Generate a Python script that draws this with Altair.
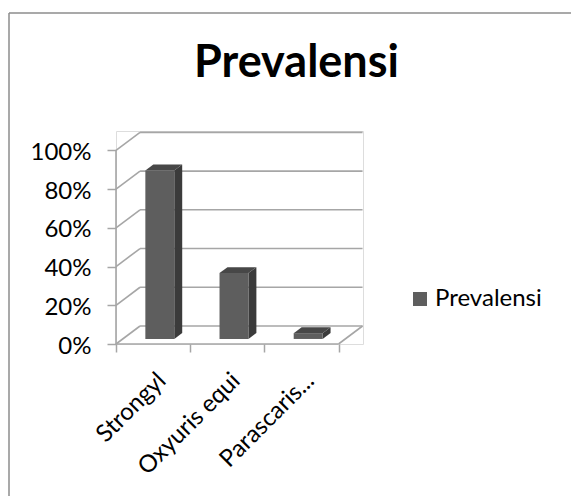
import altair as alt
import pandas as pd

# ---- data ----
categories = ["Strongyl", "Oxyuris equi", "Parascaris..."]
values = [0.87, 0.34, 0.03]
series_name = "Prevalensi"
y_ticks = [0.0, 0.2, 0.4, 0.6, 0.8, 1.0]
x_bounds = [0, 1, 2, 3]

# ---- 3D styling parameters (not data) ----
DX = 0.324   # depth shift in category units
DY = 0.093   # depth shift in value units
BAR_W = 0.39
D0, D1 = 0.28, 0.61
FONT = "Lato"
GRID = "#a6a6a6"
FRONT = "#5e5e5e"
SIDE = "#3b3b3b"
TOP = "#474747"
N = len(categories)

xscale = alt.Scale(domain=[0, 3.33], nice=False, zero=False)
yscale = alt.Scale(domain=[0, 1.1], nice=False, zero=False)
xaxis = alt.Axis(values=x_bounds, labels=False, domain=False, grid=False,
                 ticks=True, tickColor=GRID, tickSize=8, tickWidth=1.5, title=None)
yaxis = alt.Axis(values=y_ticks, format="%", domain=False, grid=False,
                 ticks=True, tickColor=GRID, tickSize=9, tickWidth=1.5,
                 labelFont=FONT, labelFontSize=24, labelColor="#000000",
                 labelPadding=16, labelOffset=2, title=None)


def X(f, **kw):
    return alt.X(f, type="quantitative", scale=xscale, axis=xaxis, title=None, **kw)


def Y(f, **kw):
    return alt.Y(f, type="quantitative", scale=yscale, axis=yaxis, title=None, **kw)


# wall / floor lines
rules = []
for v in y_ticks:
    rules.append(dict(x=DX, x2=N + DX, y=v + DY, y2=v + DY))   # back wall
    rules.append(dict(x=0, x2=DX, y=v, y2=v + DY))              # side wall
rules.append(dict(x=0, x2=N, y=0, y2=0))                        # front floor edge
rules.append(dict(x=N, x2=N + DX, y=0, y2=DY))                  # right floor edge
rules.append(dict(x=0, x2=0, y=0, y2=y_ticks[-1]))              # value axis line
rules_df = pd.DataFrame(rules)

# bar faces derived from values
front, side, top, labels = [], [], [], []
for i, (c, v) in enumerate(zip(categories, values)):
    xl = i + 0.5 - BAR_W / 2
    xr = i + 0.5 + BAR_W / 2
    front.append(dict(cat=c, series=series_name, x=xl + D0 * DX, x2=xr + D0 * DX,
                      y=D0 * DY, y2=v + D0 * DY))
    side.append(dict(cat=c, x=xr + D0 * DX, y=D0 * DY, y2=v + D0 * DY))
    side.append(dict(cat=c, x=xr + D1 * DX, y=D1 * DY, y2=v + D1 * DY))
    top.append(dict(cat=c, y=v + D0 * DY, x=xl + D0 * DX, x2=xr + D0 * DX))
    top.append(dict(cat=c, y=v + D1 * DY, x=xl + D1 * DX, x2=xr + D1 * DX))
    labels.append(dict(cat=c, x=i + 0.5, y=0.0))

rules_layer = alt.Chart(rules_df).mark_rule(color=GRID, strokeWidth=1.6).encode(
    x=X("x"), x2="x2", y=Y("y"), y2="y2")

side_layer = alt.Chart(pd.DataFrame(side)).mark_area(color=SIDE, orient="vertical").encode(
    x=X("x"), y=Y("y"), y2="y2", detail="cat:N")

top_layer = alt.Chart(pd.DataFrame(top)).mark_area(color=TOP, orient="horizontal").encode(
    y=Y("y"), x=X("x"), x2="x2", detail="cat:N")

front_layer = alt.Chart(pd.DataFrame(front)).mark_rect().encode(
    x=X("x"), x2="x2", y=Y("y"), y2="y2",
    color=alt.Color("series:N", scale=alt.Scale(range=[FRONT]),
                    legend=alt.Legend(title=None, orient="none", legendX=292, legendY=156,
                                      symbolType="square", symbolSize=196, symbolStrokeWidth=0,
                                      labelFont=FONT, labelFontSize=24, labelColor="#000000",
                                      labelOffset=3, padding=0)))

label_layer = alt.Chart(pd.DataFrame(labels)).mark_text(
    angle=315, align="right", baseline="middle", dx=-17, dy=30,
    font=FONT, fontSize=24, color="#000000").encode(
    x=X("x"), y=Y("y"), text="cat:N")

border_v = alt.Chart(pd.DataFrame({"k": [0]})).mark_rule(color="#8c8c8c", strokeWidth=1.5).encode(
    x=alt.value(-107), y=alt.value(-118), y2=alt.value(400))
border_h = alt.Chart(pd.DataFrame({"k": [0]})).mark_rule(color="#8c8c8c", strokeWidth=1.5).encode(
    x=alt.value(-107), x2=alt.value(480), y=alt.value(-118))

chart = alt.layer(border_v, border_h, rules_layer, side_layer, top_layer, front_layer, label_layer).properties(
    width=247, height=213,
    title=alt.TitleParams(series_name, font=FONT, fontSize=45, fontWeight="bold", color="#000000",
                          anchor="middle", dx=57, dy=110, offset=0, baseline="alphabetic"),
    padding={"left": 116, "top": 131, "right": 208, "bottom": 152},
    autosize=alt.AutoSizeParams(type="none"),
).configure_view(stroke=None).configure(background="#ffffff")

chart.save("out.html", embed_options={"renderer": "svg", "actions": False})
